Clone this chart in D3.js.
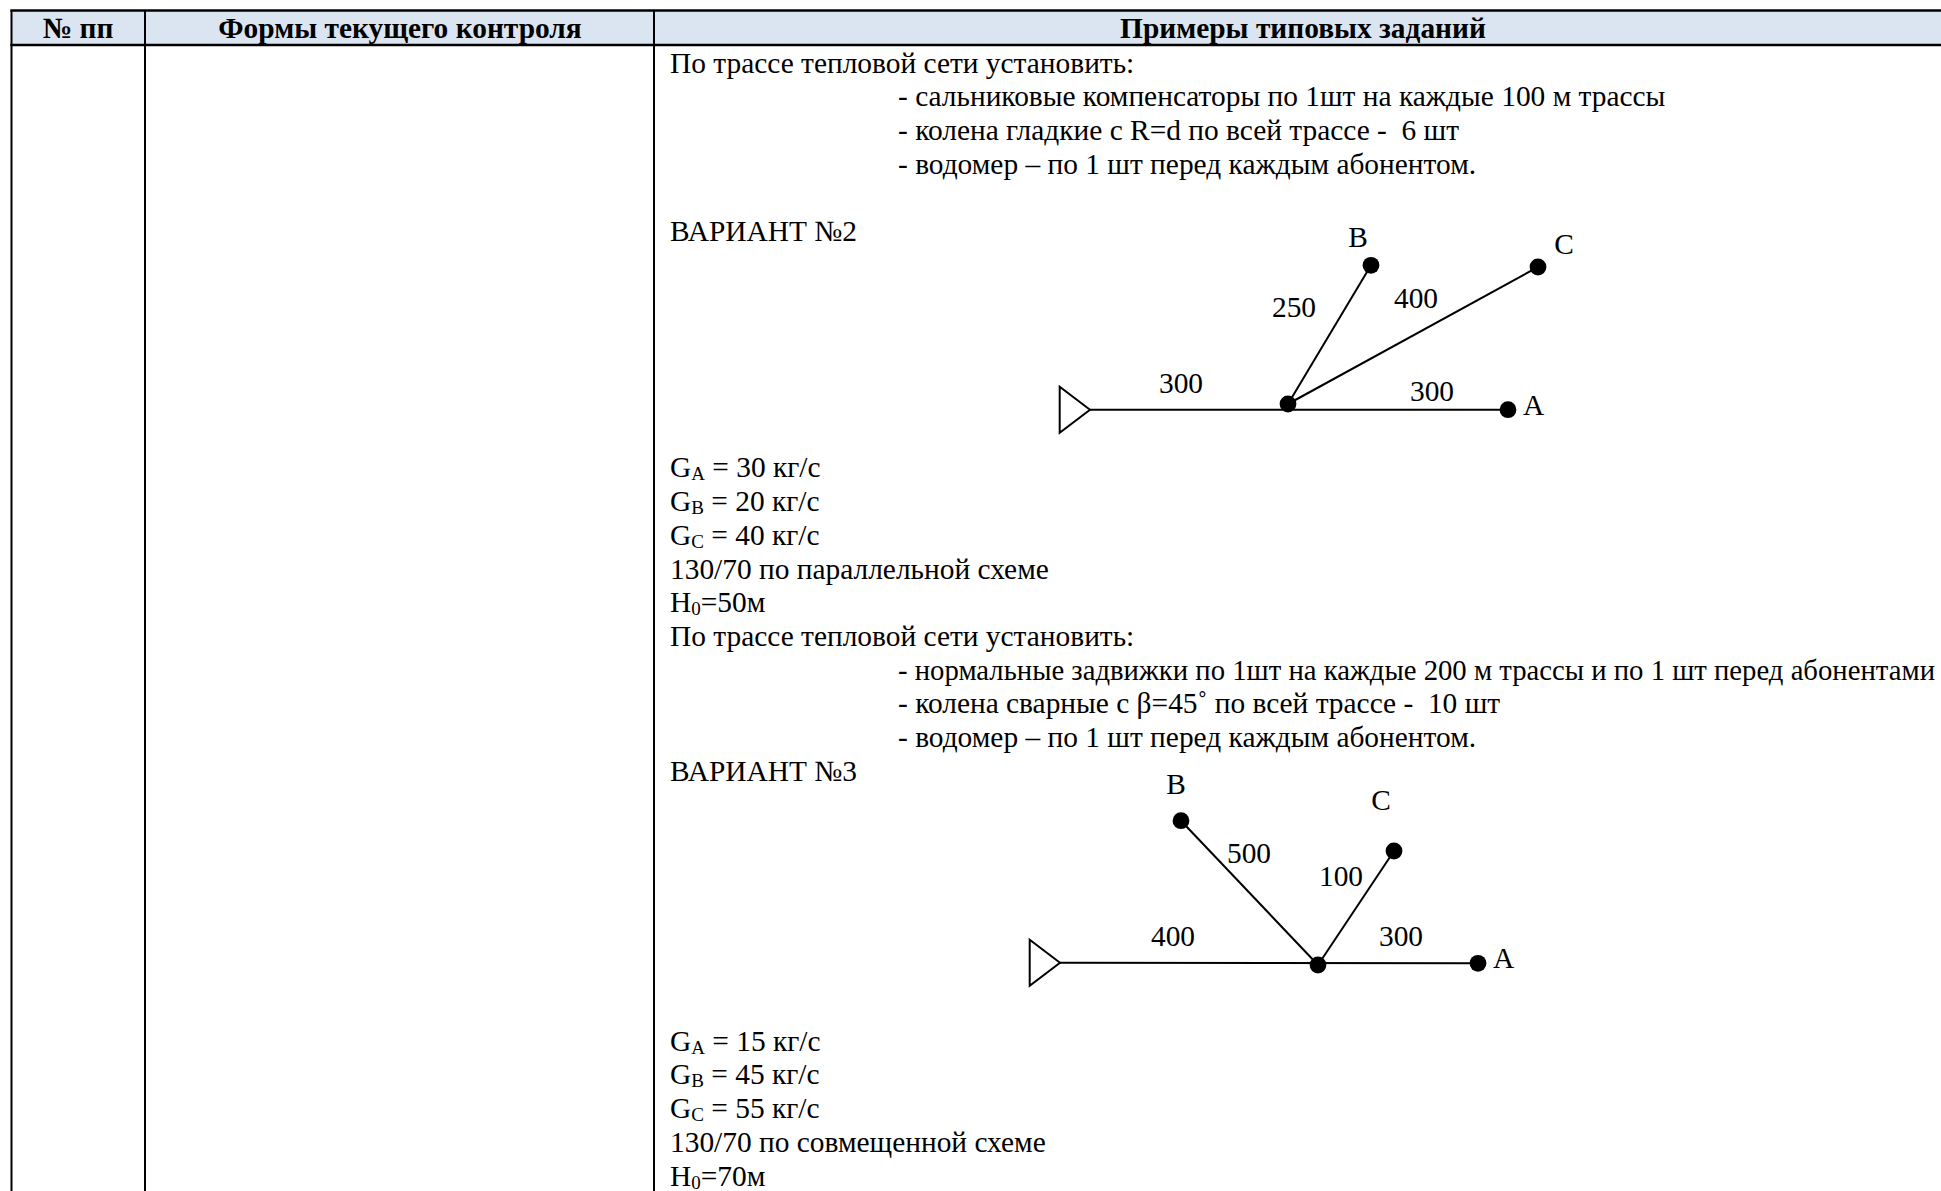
<!DOCTYPE html>
<html>
<head>
<meta charset="utf-8">
<script src="https://cdn.jsdelivr.net/npm/d3@7"></script>
<style>
html, body { margin: 0; padding: 0; background: #fff; overflow: hidden; }
svg { display: block; }
text { font-family: "Liberation Serif", serif; fill: #000; }
</style>
</head>
<body>
<svg id="canvas" width="1941" height="1191"></svg>
<script>
// header of the table
const headers = ["№ пп", "Формы текущего контроля", "Примеры типовых заданий"];

// text lines of the third column: line number, indent level, parts [text, is subscript]
const lineNumbers = [0, 1, 2, 3, 5, 12, 13, 14, 15, 16, 17, 18, 19, 20, 21, 29, 30, 31, 32, 33];
const lineIndents = [0, 1, 1, 1, 0, 0, 0, 0, 0, 0, 0, 1, 1, 1, 0, 0, 0, 0, 0, 0];
const lineTexts = [
    [["По трассе тепловой сети установить:"]],
    [["- сальниковые компенсаторы по 1шт на каждые 100 м трассы"]],
    [["- колена гладкие с R=d по всей трассе -  6 шт"]],
    [["- водомер – по 1 шт перед каждым абонентом."]],
    [["ВАРИАНТ №2"]],
    [["G"], ["A", 1], [" = 30 кг/с"]],
    [["G"], ["B", 1], [" = 20 кг/с"]],
    [["G"], ["C", 1], [" = 40 кг/с"]],
    [["130/70 по параллельной схеме"]],
    [["H"], ["0", 1], ["=50м"]],
    [["По трассе тепловой сети установить:"]],
    [["- нормальные задвижки по 1шт на каждые 200 м трассы и по 1 шт перед абонентами"]],
    [["- колена сварные с β=45˚ по всей трассе -  10 шт"]],
    [["- водомер – по 1 шт перед каждым абонентом."]],
    [["ВАРИАНТ №3"]],
    [["G"], ["A", 1], [" = 15 кг/с"]],
    [["G"], ["B", 1], [" = 45 кг/с"]],
    [["G"], ["C", 1], [" = 55 кг/с"]],
    [["130/70 по совмещенной схеме"]],
    [["H"], ["0", 1], ["=70м"]]
];

// schemes: node coordinates measured from the hub, x to the right, y upwards
const scheme2Nodes = ["source", "hub", "A", "B", "C"];
const scheme2X = [-198, 0, 220, 83, 250];
const scheme2Y = [-5.7, 0, -5.7, 138.7, 137];
const scheme2Edges = [["source", "A"], ["hub", "B"], ["hub", "C"]];
const scheme2Lengths = ["300", "300", "250", "400"];
const scheme2LengthX = [-107, 144, 6, 128];
const scheme2LengthY = [10.7, 3.3, 87.3, 95.7];
const scheme2NameX = [235, 70, 276];
const scheme2NameY = [-11, 157.3, 149.7];

const scheme3Nodes = ["source", "hub", "A", "B", "C"];
const scheme3X = [-258, 0, 160, -137, 76];
const scheme3Y = [2.3, 0, 1.7, 144.3, 114];
const scheme3Edges = [["source", "A"], ["hub", "B"], ["hub", "C"]];
const scheme3Lengths = ["400", "300", "500", "100"];
const scheme3LengthX = [-145, 83, -69, 23];
const scheme3LengthY = [19, 19, 102.3, 79];
const scheme3NameX = [175, -142, 63];
const scheme3NameY = [-3.3, 170.7, 155];

const svg = d3.select("#canvas");
const fontSize = 29.4;

// table frame
const tableX = d3.scaleOrdinal().domain(["left", "c1", "c2", "c3"]).range([11.5, 145, 654, 1960]);
const tableY = d3.scaleOrdinal().domain(["top", "head", "bottom"]).range([10.5, 45, 1195]);

const frame = svg.append("g");

frame.append("rect")
    .attr("x", tableX("left"))
    .attr("y", tableY("top"))
    .attr("width", tableX("c3") - tableX("left"))
    .attr("height", tableY("head") - tableY("top"))
    .attr("fill", "#dbe5f1");

["top", "head"].forEach(k => {
    frame.append("line")
        .attr("x1", tableX("left") - 1.2).attr("x2", tableX("c3"))
        .attr("y1", tableY(k)).attr("y2", tableY(k))
        .attr("stroke", "#000").attr("stroke-width", 2.4);
});

["left", "c1", "c2"].forEach(k => {
    frame.append("line")
        .attr("x1", tableX(k)).attr("x2", tableX(k))
        .attr("y1", tableY("top")).attr("y2", tableY("bottom"))
        .attr("stroke", "#000").attr("stroke-width", 2);
});

// header labels
const headCenter = [78, 400, 1303];
svg.append("g").selectAll("text")
    .data(headers)
    .join("text")
    .attr("x", (d, i) => headCenter[i])
    .attr("y", 37.5)
    .attr("text-anchor", "middle")
    .attr("font-size", fontSize)
    .attr("font-weight", "bold")
    .text(d => d);

// body text
const lineY = d3.scaleLinear().domain([0, 33]).range([72.6, 1185.6]);
const indentX = d3.scaleOrdinal().domain([0, 1]).range([670, 898]);

const body = svg.append("g").selectAll("text")
    .data(lineTexts)
    .join("text")
    .attr("x", (d, i) => indentX(lineIndents[i]))
    .attr("y", (d, i) => lineY(lineNumbers[i]))
    .attr("font-size", fontSize)
    .style("white-space", "pre");

body.each(function(parts) {
    const t = d3.select(this);
    let wasSub = false;
    parts.forEach(p => {
        const s = t.append("tspan").text(p[0]);
        if (p[1]) {
            s.attr("dy", 3).attr("font-size", 19);
            wasSub = true;
        } else if (wasSub) {
            s.attr("dy", -3);
            wasSub = false;
        }
    });
});

// the long line is squeezed to fit in the cell
body.filter(d => d[0][0].startsWith("- нормальные"))
    .attr("textLength", 1037)
    .attr("lengthAdjust", "spacingAndGlyphs");

function drawScheme(hubX, hubY, nodes, xs, ys, edges, lengths, lenX, lenY, nameX, nameY) {
    const x = d3.scaleLinear().domain([0, 1]).range([hubX, hubX + 1]);
    const y = d3.scaleLinear().domain([0, 1]).range([hubY, hubY - 1]);
    const px = name => x(xs[nodes.indexOf(name)]);
    const py = name => y(ys[nodes.indexOf(name)]);
    const g = svg.append("g");

    g.selectAll("line")
        .data(edges)
        .join("line")
        .attr("x1", d => px(d[0]))
        .attr("y1", d => py(d[0]))
        .attr("x2", d => px(d[1]))
        .attr("y2", d => py(d[1]))
        .attr("stroke", "#000")
        .attr("stroke-width", 2);

    // source triangle with its tip on the main line
    const tipX = px("source"), tipY = py("source");
    g.append("path")
        .attr("d", d3.line()([[tipX, tipY], [tipX - 30.3, tipY - 23], [tipX - 30.3, tipY + 23]]) + "Z")
        .attr("fill", "#fff")
        .attr("stroke", "#000")
        .attr("stroke-width", 2);

    g.selectAll("circle")
        .data(nodes.filter(d => d !== "source"))
        .join("circle")
        .attr("cx", d => px(d))
        .attr("cy", d => py(d))
        .attr("r", 8.4)
        .attr("fill", "#000");

    g.selectAll("text.len")
        .data(lengths)
        .join("text")
        .attr("class", "len")
        .attr("x", (d, i) => x(lenX[i]))
        .attr("y", (d, i) => y(lenY[i]))
        .attr("text-anchor", "middle")
        .attr("font-size", fontSize)
        .text(d => d);

    g.selectAll("text.name")
        .data(["A", "B", "C"])
        .join("text")
        .attr("class", "name")
        .attr("x", (d, i) => x(nameX[i]))
        .attr("y", (d, i) => y(nameY[i]))
        .attr("text-anchor", d => d === "A" ? "start" : "middle")
        .attr("font-size", fontSize)
        .text(d => d);
}

drawScheme(1288, 404, scheme2Nodes, scheme2X, scheme2Y, scheme2Edges, scheme2Lengths,
    scheme2LengthX, scheme2LengthY, scheme2NameX, scheme2NameY);
drawScheme(1318, 965, scheme3Nodes, scheme3X, scheme3Y, scheme3Edges, scheme3Lengths,
    scheme3LengthX, scheme3LengthY, scheme3NameX, scheme3NameY);
</script>
</body>
</html>
